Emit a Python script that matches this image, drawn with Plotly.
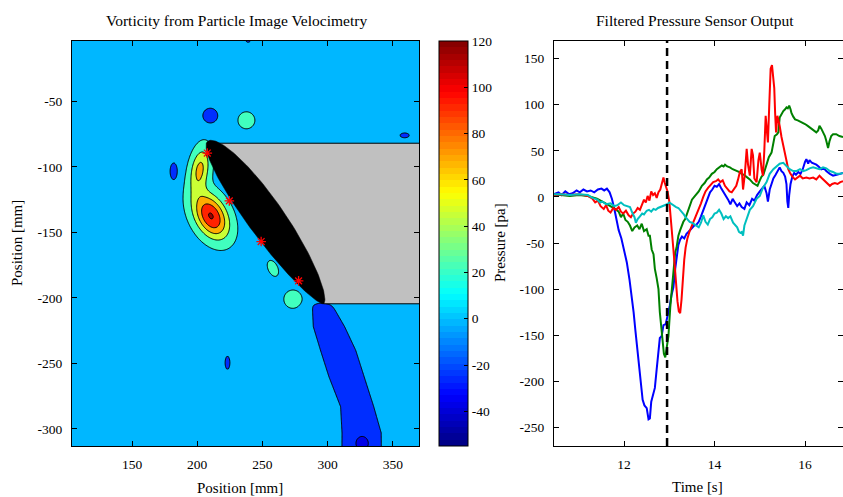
import numpy as np
import plotly.graph_objects as go

# ---------------- vorticity field (PIV) ----------------
# Gaussian vortex patches: centre [mm], peak vorticity, sigma along / across axis [mm], axis angle [deg]
patch_x = [210.5, 202.0, 210.0, 237.7, 182.0, 359.0, 239.0, 258.0, 273.4, 223.2, 326.5]
patch_y = [-137.5, -102.0, -61.0, -64.5, -103.5, -76.0, -3.0, -177.5, -201.0, -249.5, -311.0]
patch_peak = [106.0, 63.0, -26.0, 24.0, -26.0, -26.0, -26.0, 24.0, 24.0, -26.0, -22.0]
patch_sa = [13.0, 12.0, 5.0, 4.9, 5.7, 3.1, 1.7, 4.9, 5.3, 4.4, 4.5]
patch_sb = [8.2, 5.2, 5.0, 4.9, 2.45, 1.6, 1.7, 2.8, 5.3, 1.6, 4.5]
patch_ang = [-62.0, 80.0, 0.0, 0.0, 90.0, 0.0, 0.0, -65.0, 0.0, 90.0, 0.0]

# trailing-edge wake: centreline x and half width (at the first negative level) vs y
wake_y = [-203.0, -222.0, -240.0, -260.0, -283.0, -303.0, -320.0]
wake_xc = [295.0, 301.0, 308.0, 314.4, 322.6, 326.0, 326.0]
wake_half = [7.0, 12.0, 13.5, 13.5, 12.7, 15.0, 15.0]
wake_peak = -26.0
wake_top = -204.0

# filled contour levels (the first one only bounds the deepest band)
level_start, level_size, level_count = -60.5, 23.5, 8
edge_level = -13.5           # outline of the negative patches and the wake

# colour range of the colour bar
cmin, cmax = -55.0, 120.0
cbar_ticks = [-40, -20, 0, 20, 40, 60, 80, 100, 120]

# plate and airfoil geometry [mm]
plate_top, plate_bottom, plate_right = -82.0, -204.5, 370.0
airfoil_le = (208.0, -80.5)
airfoil_te = (297.0, -204.5)
airfoil_half_max = 14.0      # maximum half thickness [mm]
airfoil_max_at = 0.45        # chord fraction of maximum thickness
airfoil_offset = 2.0         # shift of the section towards the plate [mm]

# pressure tap locations on the suction side
tap_x = [207.7, 224.6, 249.0, 277.7]
tap_y = [-89.5, -126.0, -157.0, -187.0]

# ---------------- pressure sensor records ----------------
t_blue = [10.45, 10.55, 10.62, 10.70, 10.78, 10.86, 10.95, 11.02, 11.10, 11.18, 11.26, 11.34, 11.42, 11.50,
          11.56, 11.62, 11.68, 11.73, 11.78, 11.83, 11.88, 11.94, 12.00, 12.06, 12.12, 12.17, 12.21, 12.25,
          12.29, 12.33, 12.37, 12.41, 12.45, 12.50, 12.54, 12.57, 12.60, 12.64, 12.68, 12.72, 12.76, 12.79,
          12.83, 12.87, 12.92, 12.96, 13.01, 13.05, 13.09, 13.13, 13.17, 13.20, 13.24, 13.28, 13.33, 13.38,
          13.42, 13.46, 13.50, 13.55, 13.60, 13.65, 13.70, 13.74, 13.79, 13.84, 13.90, 13.95, 14.00, 14.05,
          14.10, 14.15, 14.20, 14.25, 14.30, 14.35, 14.40, 14.45, 14.50, 14.55, 14.60, 14.66, 14.71, 14.77,
          14.83, 14.88, 14.94, 15.00, 15.05, 15.10, 15.15, 15.18, 15.22, 15.26, 15.30, 15.35, 15.40, 15.44,
          15.48, 15.52, 15.56, 15.59, 15.61, 15.63, 15.65, 15.68, 15.72, 15.76, 15.80, 15.85, 15.90, 15.95,
          16.00, 16.03, 16.07, 16.10, 16.15, 16.20, 16.25, 16.30, 16.36, 16.42, 16.47, 16.55, 16.62, 16.70,
          16.77, 16.84]
p_blue = [3, 5, 2, 6, 3, 4, 7, 5, 8, 6, 7, 5, 8, 9,
          7, 9, 5, -2, -12, -25, -36, -45, -57, -71, -90, -107, -125, -145,
          -163, -182, -198, -220, -226, -229, -241, -240, -222, -214, -207, -187, -165, -153,
          -151, -139, -138, -130, -118, -106, -98, -78, -62, -52, -46, -43, -45, -40,
          -38, -36, -34, -31, -30, -27, -21, -16, -9, -2, 5, 8, 12, 11,
          14, 9, 5, 2, -3, -8, -2, -6, -10, -7, -11, -13, -6, -9,
          -2, -4, 2, 6, 9, 12, 4, -5, 8, 15, 20, 24, 29, 32,
          28, 26, 22, 14, -5, -12, 2, 14, 22, 26, 24, 27, 25, 30,
          38, 41, 36, 40, 37, 36, 35, 33, 30, 31, 28, 25, 23, 24,
          25, 26]

t_green = [10.45, 10.60, 10.80, 11.00, 11.20, 11.40, 11.55, 11.70, 11.80, 11.88, 11.93, 11.98, 12.03, 12.08,
           12.13, 12.18, 12.23, 12.29, 12.34, 12.39, 12.44, 12.50, 12.54, 12.57, 12.61, 12.65, 12.68, 12.72,
           12.76, 12.79, 12.83, 12.86, 12.88, 12.91, 12.94, 12.98, 13.02, 13.06, 13.09, 13.13, 13.16, 13.20,
           13.24, 13.27, 13.31, 13.35, 13.39, 13.42, 13.46, 13.50, 13.55, 13.60, 13.65, 13.72, 13.78, 13.83,
           13.88, 13.94, 14.00, 14.05, 14.10, 14.16, 14.20, 14.23, 14.28, 14.34, 14.40, 14.45, 14.49, 14.55,
           14.60, 14.65, 14.70, 14.78, 14.85, 14.90, 14.95, 15.00, 15.04, 15.08, 15.12, 15.15, 15.20, 15.26,
           15.30, 15.33, 15.38, 15.41, 15.44, 15.48, 15.52, 15.56, 15.59, 15.62, 15.65, 15.68, 15.70, 15.74,
           15.78, 15.84, 15.89, 15.95, 16.00, 16.06, 16.14, 16.20, 16.25, 16.29, 16.32, 16.36, 16.40, 16.44,
           16.47, 16.49, 16.51, 16.54, 16.58, 16.62, 16.69, 16.76, 16.84]
p_green = [2, 2, 1, 2, 1, -2, -6, -10, -13, -16, -22, -18, -25, -27,
           -31, -37, -33, -31, -35, -29, -37, -35, -42, -42, -57, -62, -78, -88,
           -100, -125, -147, -165, -170, -174, -165, -151, -120, -100, -84, -60, -55, -42,
           -36, -31, -27, -24, -18, -13, -8, -3, 0, 3, 6, 12, 15, 19,
           21, 25, 27, 30, 32, 34, 33, 35, 33, 32, 30, 29, 28, 27,
           25, 24, 22, 19, 15, 13, 12, 18, 22, 24, 30, 37, 43, 48,
           58, 66, 68, 70, 86, 90, 93, 95, 97, 96, 99, 95, 91, 87,
           84, 83, 82, 80, 79, 77, 74, 72, 70, 72, 77, 74, 70, 66,
           61, 55, 53, 60, 66, 68, 68, 66, 65]

t_red = [10.45, 10.60, 10.80, 11.00, 11.20, 11.30, 11.36, 11.42, 11.48, 11.55, 11.60, 11.65, 11.70, 11.76,
         11.82, 11.88, 11.93, 11.98, 12.04, 12.10, 12.15, 12.20, 12.25, 12.30, 12.35, 12.40, 12.44, 12.48,
         12.52, 12.56, 12.60, 12.64, 12.68, 12.72, 12.76, 12.80, 12.84, 12.87, 12.90, 12.93, 12.96, 13.00,
         13.03, 13.06, 13.09, 13.12, 13.15, 13.18, 13.21, 13.24, 13.27, 13.30, 13.33, 13.36, 13.40, 13.45,
         13.50, 13.55, 13.60, 13.65, 13.70, 13.75, 13.80, 13.86, 13.92, 13.97, 14.03, 14.08, 14.13, 14.18,
         14.23, 14.28, 14.33, 14.38, 14.43, 14.48, 14.52, 14.56, 14.60, 14.63, 14.67, 14.71, 14.74, 14.78,
         14.82, 14.85, 14.88, 14.93, 14.97, 15.00, 15.04, 15.07, 15.10, 15.13, 15.16, 15.18, 15.21, 15.24,
         15.27, 15.30, 15.32, 15.34, 15.36, 15.39, 15.42, 15.44, 15.48, 15.52, 15.56, 15.59, 15.63, 15.67,
         15.72, 15.78, 15.84, 15.89, 15.95, 16.03, 16.10, 16.18, 16.25, 16.32, 16.38, 16.44, 16.50, 16.55,
         16.60, 16.66, 16.72, 16.78, 16.84]
p_red = [2, 3, 2, 3, 1, -2, -6, -4, -10, -13, -9, -15, -17, -12,
         -14, -11, -16, -18, -15, -20, -22, -18, -16, -12, -14, -8, -3, -6,
         1, -4, 6, 2, 4, -1, 5, 8, 14, 21, 15, 10, 6, -5,
         -20, -38, -57, -75, -98, -113, -124, -126, -111, -88, -68, -55, -45, -37,
         -31, -26, -21, -14, -7, 0, 6, 10, 13, 16, 17, 19, 16, 18,
         12, 9, 6, 5, 9, 12, 19, 27, 30, 8, 25, 52, 35, 23,
         52, 45, 20, 16, 40, 48, 30, 23, 50, 88, 70, 59, 100, 139,
         143, 128, 118, 90, 70, 88, 82, 77, 65, 55, 45, 37, 30, 26,
         22, 19, 21, 23, 20, 21, 20, 21, 19, 23, 20, 17, 14, 12,
         14, 15, 14, 16, 17]

t_cyan = [10.45, 10.60, 10.80, 11.00, 11.20, 11.30, 11.41, 11.47, 11.52, 11.60, 11.70, 11.78, 11.85, 11.93,
          12.00, 12.08, 12.13, 12.18, 12.23, 12.26, 12.30, 12.35, 12.40, 12.44, 12.50, 12.55, 12.60, 12.65,
          12.70, 12.75, 12.80, 12.85, 12.90, 12.95, 13.00, 13.05, 13.10, 13.15, 13.20, 13.24, 13.28, 13.32,
          13.36, 13.40, 13.45, 13.50, 13.55, 13.60, 13.65, 13.70, 13.75, 13.80, 13.85, 13.90, 13.95, 14.00,
          14.05, 14.10, 14.15, 14.20, 14.25, 14.30, 14.35, 14.41, 14.45, 14.50, 14.54, 14.57, 14.60, 14.63,
          14.66, 14.71, 14.75, 14.78, 14.85, 14.93, 15.00, 15.07, 15.15, 15.22, 15.30, 15.37, 15.44, 15.52,
          15.59, 15.66, 15.74, 15.81, 15.89, 15.96, 16.03, 16.10, 16.18, 16.25, 16.32, 16.40, 16.47, 16.55,
          16.62, 16.70, 16.77, 16.84]
p_cyan = [3, 3, 2, 3, 2, -1, -3, -6, -5, -8, -7, -10, -9, -6,
          -9, -10, -11, -17, -22, -28, -24, -21, -18, -19, -15, -14, -16, -13,
          -14, -12, -11, -10, -9, -8, -6, -8, -9, -11, -12, -14, -17, -19,
          -22, -24, -27, -28, -30, -31, -33, -28, -20, -27, -30, -24, -22, -18,
          -17, -14, -18, -24, -21, -23, -21, -28, -30, -33, -38, -39, -38, -42,
          -31, -24, -18, -14, -10, -2, 1, 10, 16, 25, 30, 33, 36, 37,
          34, 30, 28, 28, 30, 28, 29, 31, 32, 31, 30, 32, 31, 28,
          27, 25, 25, 26]

event_time = 12.95
sensor_colors = {"blue": "rgb(0,0,255)", "green": "rgb(0,128,0)",
                 "red": "rgb(255,0,0)", "cyan": "rgb(0,191,191)"}


def jet(f):
    f = np.clip(f, 0.0, 1.0)
    r = np.clip(1.5 - abs(4 * f - 3), 0, 1)
    g = np.clip(1.5 - abs(4 * f - 2), 0, 1)
    b = np.clip(1.5 - abs(4 * f - 1), 0, 1)
    return "rgb(%d,%d,%d)" % (round(255 * r), round(255 * g), round(255 * b))


# ---- build the vorticity grid ----
gx = np.arange(100.0, 374.1, 1.25)
gy = np.arange(-318.0, -0.9, 1.25)
X, Y = np.meshgrid(gx, gy)
Z = np.zeros_like(X)
for cx, cy, amp, sa, sb, ang in zip(patch_x, patch_y, patch_peak, patch_sa, patch_sb, patch_ang):
    th = np.deg2rad(ang)
    dx, dy = X - cx, Y - cy
    u = dx * np.cos(th) + dy * np.sin(th)
    v = -dx * np.sin(th) + dy * np.cos(th)
    Z += amp * np.exp(-0.5 * ((u / sa) ** 2 + (v / sb) ** 2))

wake_ratio = np.sqrt(2 * np.log(wake_peak / edge_level))
xc = np.interp(Y, wake_y[::-1], wake_xc[::-1])
ws = np.interp(Y, wake_y[::-1], wake_half[::-1]) / wake_ratio
taper = 1.0 / (1.0 + np.exp((Y - wake_top) / 1.0))
Z += wake_peak * np.exp(-0.5 * ((X - xc) / ws) ** 2) * taper
Z = np.round(Z, 2)

# band colours: jet colour at each band's mid value; the deepest band uses its upper level
levels = [level_start + k * level_size for k in range(level_count)]
mids = [level_start - level_size / 2, levels[1]] + \
       [levels[k] + level_size / 2 for k in range(1, level_count)]
nb = len(mids)
band_scale = []
for k, m in enumerate(mids):
    c = jet((m - cmin) / (cmax - cmin))
    lo = max(0.0, (k - 0.5) / (nb - 1))
    hi = min(1.0, (k + 0.5) / (nb - 1))
    band_scale.append([lo, c])
    band_scale.append([hi, c])

# 64-step jet for the colour bar
jet_scale = []
for i in range(64):
    c = jet((i + 0.5) / 64)
    jet_scale.append([i / 64, c])
    jet_scale.append([(i + 1) / 64, c])

# ---- airfoil outline: round nose, sharp trailing edge ----
le = np.array(airfoil_le)
te = np.array(airfoil_te)
chord_vec = te - le
chord = np.hypot(*chord_vec)
uvec = chord_vec / chord
nvec = np.array([-uvec[1], uvec[0]])
s = (1 - np.cos(np.linspace(0, np.pi, 90))) / 2
b_exp = (1 / airfoil_max_at - 1) / 2
shape = np.sqrt(s) * (1 - s) ** b_exp
half = airfoil_half_max * shape / shape.max()
camber = airfoil_offset * np.sin(np.pi * s) ** 0.5
base = le + np.outer(s * chord, uvec) + np.outer(camber, nvec)
upper = base + np.outer(half, nvec)
lower = base - np.outer(half, nvec)
foil = np.vstack([upper, lower[::-1]])

SERIF = "Liberation Serif"
W, H = 843, 497
L0, L1, R0, R1 = 72, 419, 554, 843
TOP, BOT = 41, 446
ydom = [1 - BOT / H, 1 - TOP / H]

fig = go.Figure()

fig.add_trace(go.Contour(
    x=gx, y=gy, z=Z,
    autocontour=False,
    contours=dict(start=levels[0], end=levels[-1], size=level_size, coloring="fill", showlines=True),
    line=dict(color="black", width=1, smoothing=0.6),
    colorscale=band_scale, showscale=False, hoverinfo="skip",
    xaxis="x", yaxis="y",
))

# plate (grey) and airfoil (black)
le_x = airfoil_le[0]
te_x = airfoil_te[0]
fig.add_trace(go.Scatter(
    x=[le_x, plate_right + 2, plate_right + 2, te_x, le_x],
    y=[plate_top, plate_top, plate_bottom, plate_bottom, plate_top],
    mode="lines", fill="toself", fillcolor="rgb(192,192,192)",
    line=dict(color="black", width=1), hoverinfo="skip", xaxis="x", yaxis="y",
))
fig.add_trace(go.Scatter(
    x=foil[:, 0], y=foil[:, 1], mode="lines", fill="toself", fillcolor="black",
    line=dict(color="black", width=0.5), hoverinfo="skip", xaxis="x", yaxis="y",
))
fig.add_trace(go.Scatter(
    x=tap_x, y=tap_y, mode="markers",
    marker=dict(symbol="asterisk-open", size=8, color="red", line=dict(color="red", width=1.3)),
    hoverinfo="skip", xaxis="x", yaxis="y",
))

# colour bar carrier (point lies outside the visible range)
fig.add_trace(go.Scatter(
    x=[0], y=[0], mode="markers",
    marker=dict(color=[0], cmin=cmin, cmax=cmax, colorscale=jet_scale, showscale=True, size=1,
                colorbar=dict(
                    x=439 / W, xanchor="left", xref="paper", xpad=0, ypad=0,
                    y=(ydom[0] + ydom[1]) / 2, yanchor="middle", yref="paper",
                    len=(BOT - TOP) / H, lenmode="fraction", thickness=29, thicknessmode="pixels",
                    outlinecolor="black", outlinewidth=1,
                    tickvals=cbar_ticks, ticktext=[str(v) for v in cbar_ticks],
                    ticks="inside", ticklen=4, tickcolor="black",
                    tickfont=dict(family=SERIF, size=13.5, color="black"),
                )),
    hoverinfo="skip", showlegend=False, xaxis="x", yaxis="y",
))

# pressure records, drawn in MATLAB order b, g, r, c
for tt, pp, col in [(t_blue, p_blue, "blue"), (t_green, p_green, "green"),
                    (t_red, p_red, "red"), (t_cyan, p_cyan, "cyan")]:
    fig.add_trace(go.Scatter(x=tt, y=pp, mode="lines", line=dict(color=sensor_colors[col], width=2),
                             hoverinfo="skip", xaxis="x2", yaxis="y2"))

fig.add_shape(type="line", xref="x2", yref="y2 domain", x0=event_time, x1=event_time, y0=0, y1=1,
              line=dict(color="black", width=2.5, dash="8px,5px"))

axis_common = dict(showline=True, linecolor="black", linewidth=1, mirror="ticks", ticks="inside",
                   ticklen=5, tickcolor="black", showgrid=False, zeroline=False,
                   tickfont=dict(family=SERIF, size=13.5, color="black"), ticklabelstandoff=6)

px_ticks = [150, 200, 250, 300, 350]
py_ticks = [-300, -250, -200, -150, -100, -50]
tx_ticks = [12, 14, 16]
ty_ticks = [-250, -200, -150, -100, -50, 0, 50, 100, 150]

fig.update_layout(
    width=W, height=H, margin=dict(l=0, r=0, t=0, b=0),
    paper_bgcolor="white", plot_bgcolor="white", showlegend=False, hovermode=False,
    font=dict(family=SERIF, size=13, color="black"),
    xaxis=dict(domain=[L0 / W, L1 / W], range=[104, 370], anchor="y",
               tickvals=px_ticks, ticktext=[str(v) for v in px_ticks], **axis_common),
    yaxis=dict(domain=ydom, range=[-313, -4], anchor="x",
               tickvals=py_ticks, ticktext=[str(v) for v in py_ticks], **axis_common),
    xaxis2=dict(domain=[R0 / W, 1.0], range=[10.45, 16.84], anchor="y2",
                tickvals=tx_ticks, ticktext=[str(v) for v in tx_ticks], **axis_common),
    yaxis2=dict(domain=ydom, range=[-270, 169], anchor="x2",
                tickvals=ty_ticks, ticktext=[str(v) for v in ty_ticks], **axis_common),
)

title_font = dict(family=SERIF, size=15.5, color="black")
label_font = dict(family=SERIF, size=15, color="black")
notes = [
    ("Vorticity from Particle Image Velocimetry", 237 / W, 1 - 21 / H, 0, title_font),
    ("Position [mm]", 240 / W, 1 - 488 / H, 0, label_font),
    ("Position [mm]", 17 / W, 1 - 243 / H, -90, label_font),
    ("Filtered Pressure Sensor Output", 695 / W, 1 - 21 / H, 0, title_font),
    ("Time [s]", 697 / W, 1 - 487 / H, 0, label_font),
    ("Pressure [pa]", 500 / W, 1 - 243 / H, -90, label_font),
]
for text, x, y, ang, fnt in notes:
    fig.add_annotation(text=text, x=x, y=y, xref="paper", yref="paper", showarrow=False,
                       xanchor="center", yanchor="middle", textangle=ang, font=fnt)

fig.write_html("out.html")
